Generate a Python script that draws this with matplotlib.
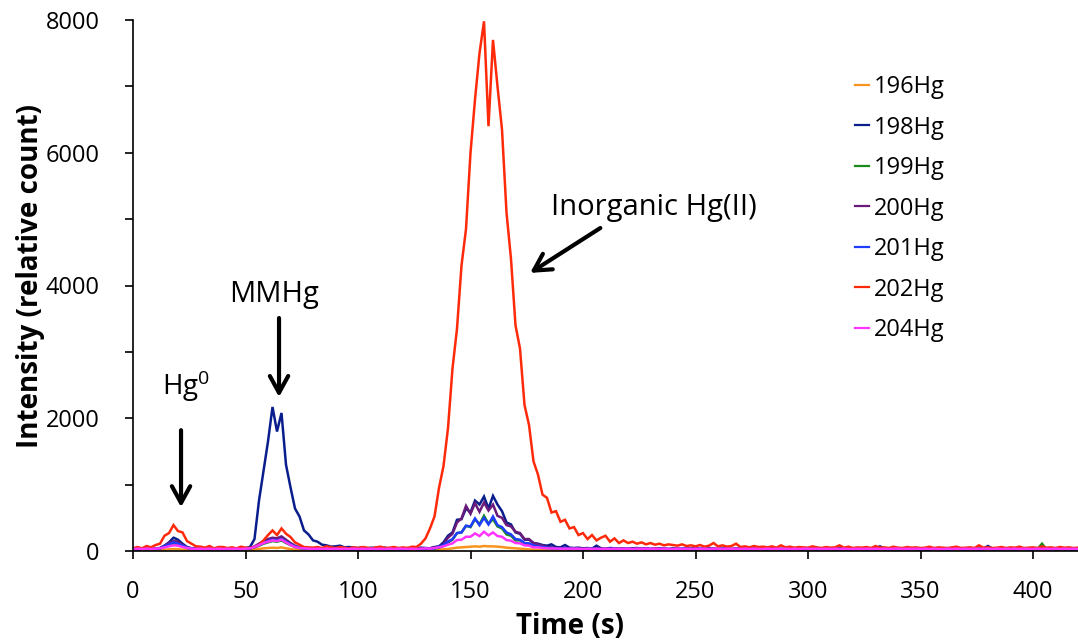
import numpy as np
import matplotlib
matplotlib.use("Agg")
import matplotlib.pyplot as plt

plt.rcParams['font.family'] = ['Open Sans', 'DejaVu Sans']
plt.rcParams['mathtext.fontset'] = 'custom'
plt.rcParams['mathtext.rm'] = 'Open Sans'

# ---------------- data (2 s sampling) ----------------
time_s = np.arange(0, 421, 2)

hg196 = [10, 12, 10, 14, 12, 10, 15, 20, 25, 30,
         28, 20, 15, 12, 10, 12, 10, 12, 10, 12,
         10, 12, 10, 12, 10, 12, 15, 20, 30, 40,
         45, 50, 45, 55, 40, 30, 20, 15, 12, 10,
         12, 10, 14, 10, 12, 10, 12, 14, 10, 12,
         10, 12, 10, 14, 12, 10, 12, 10, 14, 12,
         10, 12, 14, 10, 12, 14, 15, 18, 22, 26,
         30, 40, 50, 55, 60, 65, 70, 65, 75, 70,
         70, 65, 60, 50, 45, 40, 35, 30, 25, 20,
         18, 15, 14, 12, 12, 10, 12, 10, 12, 10,
         12, 10, 14, 10, 12, 10, 12, 14, 10, 12,
         10, 12, 10, 14, 12, 10, 12, 10, 14, 12,
         12, 10, 14, 10, 12, 10, 12, 14, 10, 12,
         10, 12, 10, 14, 12, 10, 12, 10, 14, 12,
         12, 10, 14, 10, 12, 10, 12, 14, 10, 12,
         10, 12, 10, 14, 12, 10, 12, 10, 14, 12,
         12, 10, 14, 10, 12, 10, 12, 14, 10, 12,
         10, 12, 10, 14, 12, 10, 12, 10, 14, 12,
         12, 10, 14, 10, 12, 10, 12, 14, 10, 12,
         10, 12, 10, 14, 12, 10, 12, 10, 14, 12,
         12, 10, 14, 10, 12, 10, 12, 14, 10, 12,
         10]

hg198 = [30, 25, 35, 30, 40, 30, 45, 80, 130, 200,
         170, 110, 60, 40, 35, 30, 40, 30, 35, 30,
         35, 30, 40, 35, 30, 45, 60, 180, 760, 1200,
         1650, 2170, 1800, 2080, 1300, 960, 640, 520, 310, 250,
         160, 140, 95, 85, 65, 70, 80, 55, 60, 50,
         45, 55, 40, 50, 45, 40, 50, 35, 45, 40,
         35, 45, 40, 35, 50, 45, 40, 60, 70, 130,
         230, 280, 470, 480, 640, 580, 760, 700, 820, 640,
         830, 700, 600, 430, 400, 280, 260, 170, 170, 120,
         110, 90, 80, 100, 60, 55, 90, 50, 45, 50,
         40, 45, 35, 80, 40, 35, 45, 40, 35, 40,
         35, 40, 45, 35, 40, 30, 35, 40, 35, 30,
         40, 35, 30, 40, 35, 45, 30, 35, 40, 35,
         30, 35, 40, 30, 35, 40, 35, 30, 35, 40,
         35, 30, 40, 35, 30, 35, 40, 35, 30, 35,
         40, 35, 30, 35, 40, 30, 35, 40, 35, 30,
         35, 40, 35, 30, 35, 40, 70, 35, 30, 35,
         40, 35, 30, 35, 40, 35, 30, 35, 40, 35,
         30, 35, 40, 35, 30, 35, 40, 30, 35, 40,
         75, 35, 30, 40, 35, 30, 35, 40, 35, 30,
         35, 40, 30, 35, 40, 35, 30, 35, 40, 35,
         30]

hg199 = [25, 20, 30, 25, 30, 25, 35, 60, 90, 110,
         100, 70, 45, 30, 25, 30, 20, 25, 30, 25,
         30, 25, 20, 30, 25, 30, 35, 55, 80, 110,
         130, 150, 140, 160, 120, 90, 60, 45, 35, 30,
         25, 30, 20, 25, 30, 25, 20, 30, 25, 20,
         25, 30, 20, 25, 20, 30, 25, 20, 25, 30,
         20, 25, 30, 25, 20, 30, 25, 35, 50, 80,
         130, 170, 270, 280, 380, 360, 480, 400, 530, 410,
         480, 370, 340, 250, 230, 160, 160, 110, 105, 75,
         65, 55, 45, 40, 35, 30, 35, 25, 30, 25,
         20, 25, 30, 20, 25, 30, 25, 20, 25, 30,
         25, 20, 30, 25, 20, 25, 30, 20, 25, 20,
         30, 25, 20, 25, 30, 20, 25, 30, 20, 25,
         20, 30, 25, 20, 25, 30, 20, 25, 30, 25,
         25, 20, 25, 30, 20, 25, 20, 30, 25, 20,
         30, 25, 20, 25, 30, 25, 20, 25, 30, 20,
         25, 30, 25, 20, 25, 20, 30, 25, 20, 25,
         20, 25, 30, 25, 20, 30, 25, 20, 25, 30,
         25, 20, 25, 30, 25, 20, 25, 30, 20, 25,
         30, 25, 20, 25, 30, 20, 25, 60, 25, 20,
         25, 30, 110, 25, 30, 20, 25, 30, 25, 20,
         25]

hg200 = [30, 25, 35, 30, 35, 30, 45, 80, 120, 150,
         140, 90, 55, 40, 30, 35, 30, 25, 35, 30,
         30, 35, 25, 30, 35, 30, 40, 70, 110, 150,
         180, 200, 190, 220, 170, 120, 80, 55, 45, 35,
         30, 35, 30, 25, 35, 30, 25, 35, 30, 25,
         30, 35, 25, 30, 35, 30, 25, 30, 35, 30,
         25, 30, 35, 30, 40, 35, 40, 55, 60, 100,
         200, 260, 430, 490, 680, 560, 720, 590, 730, 610,
         700, 530, 500, 390, 370, 290, 270, 180, 180, 120,
         100, 80, 60, 55, 45, 40, 45, 35, 40, 35,
         30, 35, 30, 40, 30, 35, 30, 35, 30, 35,
         35, 30, 35, 30, 35, 30, 40, 30, 35, 30,
         30, 35, 30, 35, 30, 35, 30, 35, 30, 35,
         35, 30, 35, 30, 35, 30, 35, 30, 35, 30,
         30, 35, 30, 35, 30, 35, 30, 35, 30, 35,
         35, 30, 35, 30, 35, 30, 35, 30, 35, 30,
         30, 35, 30, 35, 30, 35, 55, 30, 35, 30,
         35, 30, 35, 30, 35, 30, 35, 30, 35, 30,
         30, 35, 30, 35, 30, 35, 30, 35, 30, 35,
         60, 30, 35, 30, 35, 30, 35, 30, 35, 30,
         30, 35, 30, 35, 30, 35, 30, 35, 30, 35,
         30]

hg201 = [30, 25, 35, 30, 35, 30, 40, 70, 100, 130,
         110, 80, 50, 35, 30, 25, 30, 35, 25, 30,
         25, 30, 35, 25, 30, 35, 40, 60, 90, 120,
         150, 170, 160, 180, 140, 100, 70, 50, 40, 35,
         30, 25, 35, 30, 25, 30, 35, 25, 30, 25,
         30, 25, 35, 30, 25, 30, 25, 35, 30, 25,
         30, 25, 35, 30, 25, 35, 30, 40, 60, 90,
         140, 180, 270, 280, 380, 370, 490, 390, 500, 400,
         520, 390, 360, 280, 250, 180, 170, 120, 115, 85,
         70, 60, 50, 45, 40, 35, 40, 30, 35, 30,
         25, 30, 35, 25, 30, 25, 35, 30, 25, 30,
         35, 25, 30, 25, 35, 30, 25, 30, 35, 25,
         30, 25, 35, 30, 25, 30, 35, 25, 30, 25,
         25, 35, 30, 25, 30, 35, 25, 30, 25, 35,
         30, 25, 30, 35, 25, 30, 25, 35, 30, 25,
         35, 30, 25, 30, 25, 35, 30, 25, 30, 35,
         25, 30, 35, 25, 30, 25, 30, 35, 25, 30,
         30, 35, 25, 30, 35, 25, 30, 25, 35, 30,
         25, 30, 25, 35, 30, 25, 35, 30, 25, 30,
         35, 25, 30, 25, 30, 35, 25, 30, 35, 25,
         30, 25, 35, 30, 25, 30, 35, 25, 30, 25,
         30]

hg202 = [40, 60, 40, 75, 55, 90, 110, 230, 270, 390,
         300, 280, 150, 110, 70, 65, 50, 75, 40, 60,
         60, 45, 55, 40, 65, 50, 45, 60, 90, 160,
         240, 310, 240, 340, 260, 210, 130, 95, 60, 55,
         50, 60, 45, 70, 55, 45, 60, 50, 40, 55,
         45, 60, 50, 40, 55, 65, 45, 50, 60, 45,
         55, 45, 65, 60, 110, 190, 340, 520, 950, 1280,
         1850, 2750, 3350, 4300, 4850, 6000, 6800, 7500, 7980, 6400,
         7700, 7000, 6350, 5100, 4400, 3400, 3050, 2200, 1900, 1350,
         1150, 850, 800, 580, 600, 440, 470, 340, 360, 240,
         270, 180, 240, 160, 200, 230, 140, 190, 120, 160,
         120, 140, 110, 130, 100, 120, 95, 110, 85, 100,
         90, 80, 100, 75, 85, 70, 90, 65, 80, 120,
         70, 85, 65, 75, 110, 60, 70, 55, 75, 60,
         65, 55, 70, 50, 85, 55, 65, 50, 60, 55,
         50, 70, 55, 45, 60, 50, 55, 85, 50, 65,
         45, 55, 50, 60, 45, 75, 50, 55, 45, 65,
         50, 45, 60, 50, 55, 45, 50, 65, 45, 55,
         50, 45, 55, 65, 45, 50, 55, 45, 85, 50,
         55, 45, 50, 60, 45, 55, 50, 65, 45, 50,
         55, 45, 70, 50, 55, 45, 60, 50, 55, 45,
         50]

hg204 = [30, 35, 30, 35, 30, 35, 40, 55, 70, 85,
         80, 60, 45, 35, 30, 35, 30, 35, 30, 35,
         30, 35, 30, 35, 30, 35, 40, 60, 90, 120,
         140, 160, 150, 170, 130, 90, 60, 45, 40, 35,
         30, 35, 30, 35, 30, 35, 30, 35, 30, 35,
         30, 35, 30, 35, 30, 35, 30, 35, 30, 35,
         35, 30, 35, 30, 35, 40, 35, 45, 55, 70,
         95, 115, 165, 170, 215, 215, 265, 225, 290, 235,
         280, 225, 215, 165, 155, 120, 115, 85, 80, 55,
         55, 45, 40, 38, 35, 35, 35, 35, 35, 35,
         30, 35, 30, 35, 30, 35, 30, 35, 30, 35,
         35, 30, 35, 30, 35, 30, 35, 30, 35, 30,
         30, 35, 30, 35, 30, 35, 30, 35, 30, 35,
         35, 30, 35, 30, 35, 30, 35, 30, 35, 30,
         30, 35, 30, 35, 30, 35, 30, 35, 30, 35,
         35, 30, 35, 30, 35, 30, 35, 30, 35, 30,
         30, 35, 30, 35, 30, 35, 30, 35, 30, 35,
         35, 30, 35, 30, 35, 30, 35, 30, 35, 30,
         30, 35, 30, 35, 30, 35, 30, 35, 30, 35,
         35, 30, 35, 30, 35, 30, 35, 30, 35, 30,
         30, 35, 30, 35, 30, 35, 30, 35, 30, 35,
         30]

series_labels = ['196Hg', '198Hg', '199Hg', '200Hg', '201Hg', '202Hg', '204Hg']
series_values = [hg196, hg198, hg199, hg200, hg201, hg202, hg204]
series_colors = ['#F7941D', '#0A1D8C', '#1A8A1A', '#6A1A7A', '#1F3DFF', '#FF2A0A', '#FF33FF']

x_ticks = [0, 50, 100, 150, 200, 250, 300, 350, 400]
y_major = [0, 2000, 4000, 6000, 8000]
y_minor = [1000, 3000, 5000, 7000]

# ---------------- figure ----------------
W, H = 1078, 644
fig = plt.figure(figsize=(W / 100, H / 100), dpi=100)
ax = fig.add_axes([133 / W, 1 - 551 / H, (W - 133) / W, (551 - 20) / H])

for lab, vals, col in zip(series_labels, series_values, series_colors):
    ax.plot(time_s, vals, color=col, lw=1.8, label=lab, solid_joinstyle='miter')

ax.set_xlim(0, 420)
ax.set_ylim(0, 8000)
ax.set_xticks(x_ticks)
ax.set_yticks(y_major)
ax.set_yticks(y_minor, minor=True)
ax.tick_params(axis='both', which='both', direction='out', length=6, width=1.2,
               color='black', labelsize=17)
ax.tick_params(axis='x', pad=15)
ax.tick_params(axis='y', pad=18)
for s in ['top', 'right']:
    ax.spines[s].set_visible(False)
for s in ['left', 'bottom']:
    ax.spines[s].set_linewidth(1.2)

# axis titles
fig.text(570 / W, 1 - 626 / H, 'Time (s)', ha='center', va='center',
         fontsize=20, fontweight='bold')
fig.text(31 / W, 1 - 276 / H, 'Intensity (relative count)', ha='center', va='center',
         rotation=90, fontsize=20, fontweight='bold')

# annotations
arrow_kw = dict(arrowstyle='->, head_length=0.6, head_width=0.33', lw=3,
                color='black', shrinkA=0, shrinkB=0, mutation_scale=20)
ax.text(23.6, 2350, r'$\mathregular{Hg^0}$', ha='center', va='baseline', fontsize=20)
ax.annotate('', xy=(21.35, 660), xytext=(21.35, 1820), arrowprops=arrow_kw)
ax.text(62.7, 3750, 'MMHg', ha='center', va='baseline', fontsize=21)
ax.annotate('', xy=(64.9, 2320), xytext=(64.9, 3510), arrowprops=arrow_kw)
ax.text(231.3, 5060, 'Inorganic Hg(II)', ha='center', va='baseline', fontsize=21)
ax.annotate('', xy=(176.5, 4190), xytext=(207.7, 4866), arrowprops=arrow_kw)

leg = ax.legend(loc='upper left', bbox_to_anchor=(855 / W, 1 - 75 / H),
                bbox_transform=fig.transFigure, frameon=False, fontsize=17,
                handlelength=0.6, handletextpad=0.2, labelspacing=0.7,
                borderaxespad=0, borderpad=0)
for line in leg.get_lines():
    line.set_linewidth(1.6)

fig.savefig('out.png', dpi=100)
